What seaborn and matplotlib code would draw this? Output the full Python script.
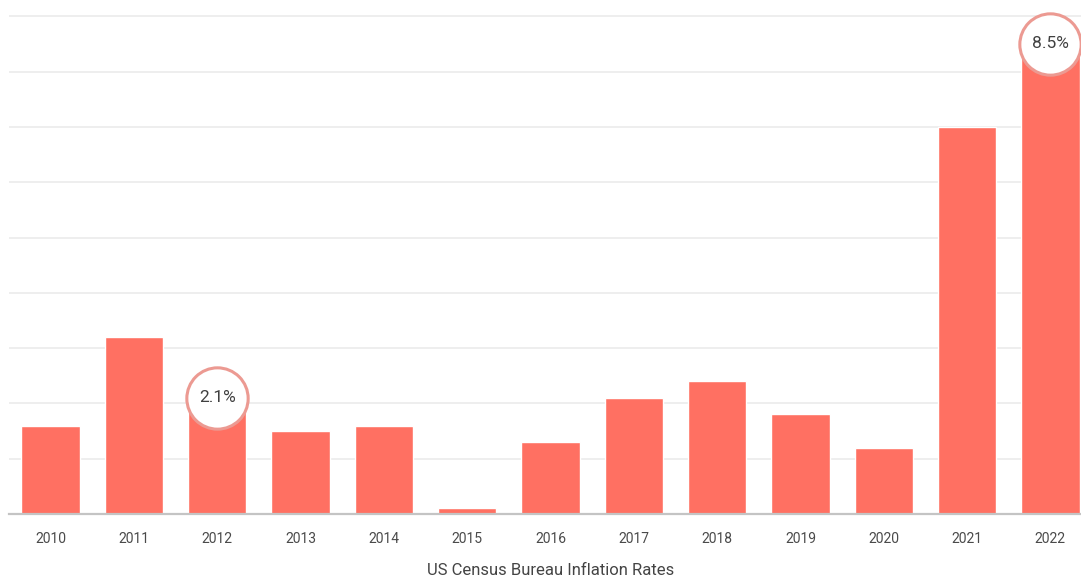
import matplotlib
matplotlib.use("Agg")
import matplotlib.pyplot as plt
import seaborn as sns
import pandas as pd

# Annual inflation rates (%)
years = ["2010", "2011", "2012", "2013", "2014", "2015", "2016",
         "2017", "2018", "2019", "2020", "2021", "2022"]
rates = [1.6, 3.2, 2.1, 1.5, 1.6, 0.1, 1.3, 2.1, 2.4, 1.8, 1.2, 7.0, 8.5]
# Years whose value is called out in a bubble
highlight_years = ["2012", "2022"]

title = "US Census Bureau Inflation Rates"

sns.set_style("white")
plt.rcParams["font.family"] = ["Roboto", "DejaVu Sans"]

df = pd.DataFrame({"year": years, "rate": rates})

fig = plt.figure(figsize=(10.81, 5.81), dpi=100)
ax = fig.add_axes([9 / 1081, 67 / 581, 1083 / 1081, 514 / 581])

bar_color = "#FF7062"
sns.barplot(data=df, x="year", y="rate", color=bar_color, saturation=1,
            width=0.7, ax=ax, zorder=2)

ax.set_xlim(-0.5, len(years) - 0.5)
ax.set_ylim(0, 9.295)
ax.set_yticks(range(0, 10))
ax.yaxis.grid(True, color="#ededed", linewidth=1.3)
ax.set_axisbelow(True)
ax.tick_params(axis="y", left=False, labelleft=False)
ax.tick_params(axis="x", length=0, pad=13, labelsize=10, labelcolor="#4a4a4a")

for side in ("top", "right", "left"):
    ax.spines[side].set_visible(False)
ax.spines["bottom"].set_color("#c4c4c4")
ax.spines["bottom"].set_linewidth(1.6)

ax.set_ylabel("")
ax.set_xlabel(title, fontsize=12, color="#444444", labelpad=12)

# Value bubbles on top of the highlighted bars
for i, (yr, val) in enumerate(zip(years, rates)):
    if yr in highlight_years:
        ax.scatter([i], [val], s=1950, marker="o", facecolor="white",
                   edgecolor="#EC9A92", linewidth=2.2, zorder=4, clip_on=False)
        ax.text(i, val, f"{val:.1f}%", ha="center", va="center",
                fontsize=12.5, color="#404040", zorder=5)

fig.savefig("out.png", dpi=100, facecolor="white")
